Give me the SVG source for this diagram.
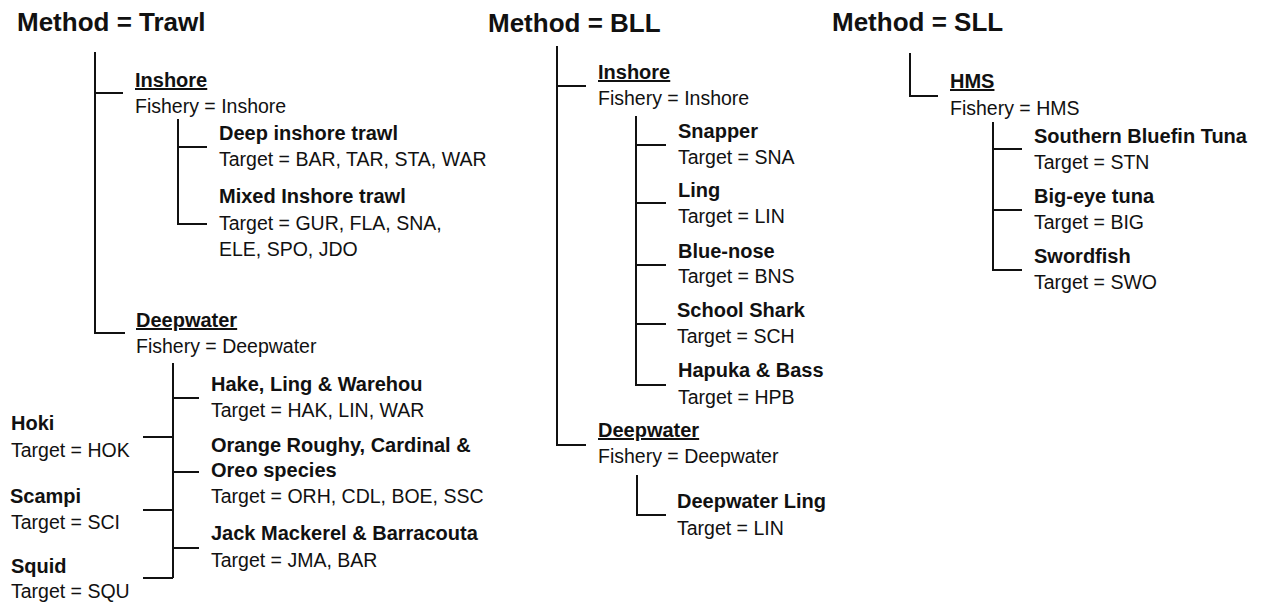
<svg xmlns="http://www.w3.org/2000/svg" width="1266" height="602" viewBox="0 0 1266 602">
<style>
text{font-family:"Liberation Sans",Arial,sans-serif;fill:#111}
.t{font-size:26px;font-weight:bold}
.b{font-size:20px;font-weight:bold}
.u{font-size:20px;font-weight:bold;text-decoration:underline}
.r{font-size:19.5px}
.c{fill:none;stroke:#111;stroke-width:2}
</style>
<rect width="1266" height="602" fill="#fff"/>
<g id="connectors">
<!-- Trawl -->
<path class="c" d="M95,52 V333 H125 M95,93 H123"/>
<path class="c" d="M178,119 V224 H207 M178,147 H207"/>
<path class="c" d="M173,363 V578 M173,398 H199 M173,472 H199 M173,548 H199 M143,437 H173 M143,510 H173 M143,578 H173"/>
<!-- BLL -->
<path class="c" d="M557,46 V445 H586 M557,86 H586"/>
<path class="c" d="M636,116 V385 H666 M636,145 H666 M636,203 H666 M636,265 H666 M636,324 H666"/>
<path class="c" d="M637,475 V515 H666"/>
<!-- SLL -->
<path class="c" d="M910,53 V96 H938"/>
<path class="c" d="M993,122 V270 H1022 M993,149 H1022 M993,210 H1022"/>
</g>
<g id="method-trawl"><text class="t" x="17" y="31">Method = Trawl</text></g>
<g id="trawl-inshore"><text class="u" x="135" y="87">Inshore</text><text class="r" x="135" y="113">Fishery = Inshore</text></g>
<g id="trawl-deep-inshore"><text class="b" x="219" y="140">Deep inshore trawl</text><text class="r" x="219" y="166">Target = BAR, TAR, STA, WAR</text></g>
<g id="trawl-mixed-inshore"><text class="b" x="219" y="203">Mixed Inshore trawl</text><text class="r" x="219" y="230">Target = GUR, FLA, SNA,</text><text class="r" x="219" y="256">ELE, SPO, JDO</text></g>
<g id="trawl-deepwater"><text class="u" x="136" y="327">Deepwater</text><text class="r" x="136" y="353">Fishery = Deepwater</text></g>
<g id="trawl-hake"><text class="b" x="211" y="391">Hake, Ling &amp; Warehou</text><text class="r" x="211" y="417">Target = HAK, LIN, WAR</text></g>
<g id="trawl-orange"><text class="b" x="211" y="452">Orange Roughy, Cardinal &amp;</text><text class="b" x="211" y="477">Oreo species</text><text class="r" x="211" y="503">Target = ORH, CDL, BOE, SSC</text></g>
<g id="trawl-jack"><text class="b" x="211" y="540">Jack Mackerel &amp; Barracouta</text><text class="r" x="211" y="567">Target = JMA, BAR</text></g>
<g id="trawl-hoki"><text class="b" x="11" y="430">Hoki</text><text class="r" x="11" y="457">Target = HOK</text></g>
<g id="trawl-scampi"><text class="b" x="10" y="503">Scampi</text><text class="r" x="11" y="529">Target = SCI</text></g>
<g id="trawl-squid"><text class="b" x="11" y="573">Squid</text><text class="r" x="11" y="598">Target = SQU</text></g>

<g id="method-bll"><text class="t" x="488" y="32">Method = BLL</text></g>
<g id="bll-inshore"><text class="u" x="598" y="79">Inshore</text><text class="r" x="598" y="105">Fishery = Inshore</text></g>
<g id="bll-snapper"><text class="b" x="678" y="138">Snapper</text><text class="r" x="678" y="164">Target = SNA</text></g>
<g id="bll-ling"><text class="b" x="678" y="197">Ling</text><text class="r" x="678" y="223">Target = LIN</text></g>
<g id="bll-bluenose"><text class="b" x="678" y="258">Blue-nose</text><text class="r" x="678" y="283">Target = BNS</text></g>
<g id="bll-schoolshark"><text class="b" x="677" y="317">School Shark</text><text class="r" x="677" y="343">Target = SCH</text></g>
<g id="bll-hapuka"><text class="b" x="678" y="377">Hapuka &amp; Bass</text><text class="r" x="678" y="404">Target = HPB</text></g>
<g id="bll-deepwater"><text class="u" x="598" y="437">Deepwater</text><text class="r" x="598" y="463">Fishery = Deepwater</text></g>
<g id="bll-deepwater-ling"><text class="b" x="677" y="508">Deepwater Ling</text><text class="r" x="677" y="535">Target = LIN</text></g>

<g id="method-sll"><text class="t" x="832" y="31">Method = SLL</text></g>
<g id="sll-hms"><text class="u" x="950" y="88">HMS</text><text class="r" x="950" y="115">Fishery = HMS</text></g>
<g id="sll-sbt"><text class="b" x="1034" y="143">Southern Bluefin Tuna</text><text class="r" x="1034" y="169">Target = STN</text></g>
<g id="sll-bigeye"><text class="b" x="1034" y="203">Big-eye tuna</text><text class="r" x="1034" y="229">Target = BIG</text></g>
<g id="sll-swordfish"><text class="b" x="1034" y="263">Swordfish</text><text class="r" x="1034" y="289">Target = SWO</text></g>
</svg>
